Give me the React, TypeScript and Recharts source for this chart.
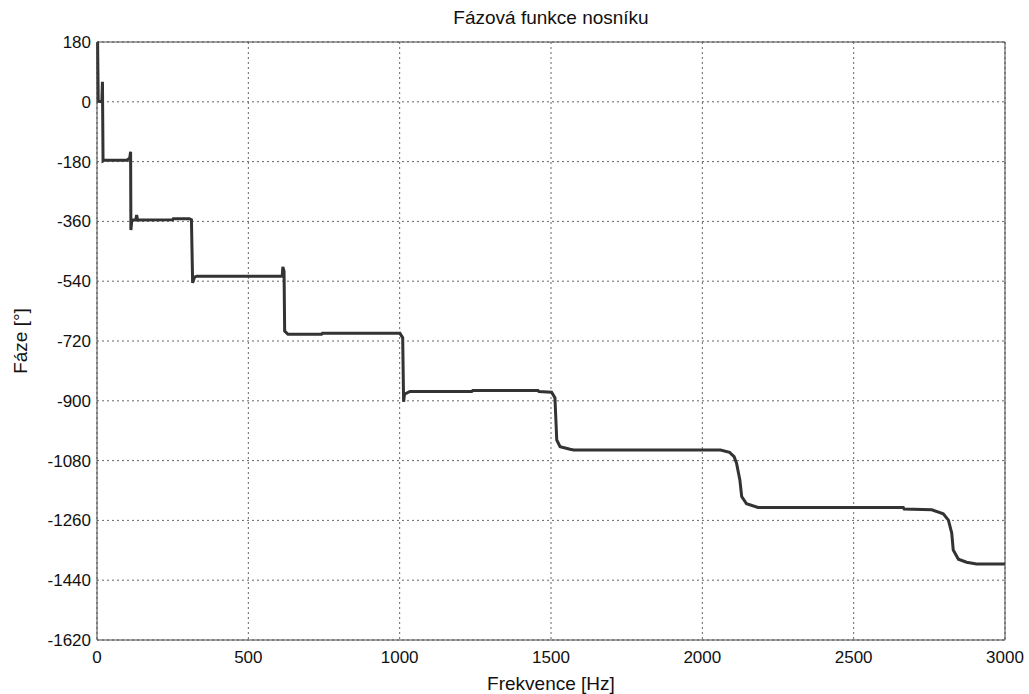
import React from 'react';
import { LineChart, Line, XAxis, YAxis, CartesianGrid, Label } from 'recharts';

// frequency [Hz] and phase [deg]
const freqHz = [
  0, 2, 4, 16, 18, 20, 24, 98, 108, 111, 112, 115, 128, 131, 134, 250, 252, 305, 312, 316, 322, 330,
  612, 614, 618, 620, 631, 742, 745, 1001, 1010, 1013, 1016, 1034, 1238, 1242, 1457, 1460, 1502, 1513,
  1519, 1530, 1563, 1575, 2060, 2090, 2105, 2113, 2124, 2130, 2146, 2184, 2664, 2667, 2758, 2796, 2813,
  2824, 2829, 2846, 2873, 2906, 3000,
];
const phaseDeg = [
  180, 178, 2, 0, 60, -178, -176, -176, -170, -150, -386, -356, -356, -341, -356, -355, -352, -352, -355, -545, -528, -525,
  -525, -497, -510, -690, -700, -700, -697, -697, -710, -903, -880, -872, -872, -869, -869, -872, -874, -891,
  -1018, -1038, -1046, -1048, -1048, -1055, -1068, -1088, -1138, -1188, -1210, -1221, -1221, -1226, -1228, -1240, -1259,
  -1298, -1349, -1377, -1386, -1391, -1391,
];

const xTicks = [0, 500, 1000, 1500, 2000, 2500, 3000];
const yTicks = [180, 0, -180, -360, -540, -720, -900, -1080, -1260, -1440, -1620];

const title = 'Fázová funkce nosníku';
const xLabel = 'Frekvence [Hz]';
const yLabel = 'Fáze [°]';

const data = freqHz.map((f, i) => ({ f, phase: phaseDeg[i] }));

const font = '"Liberation Sans", Arial, sans-serif';

export default function App() {
  return (
    <div style={{ position: 'absolute', left: 0, top: 0, background: '#fff', fontFamily: font }}>
      <LineChart width={1029} height={694} data={data} margin={{ top: 0, right: 0, bottom: 0, left: 0 }}>
        <CartesianGrid stroke="#666" strokeDasharray="2 3" />
        <XAxis
          dataKey="f"
          type="number"
          domain={[0, 3000]}
          ticks={xTicks}
          height={54}
          tickLine={false}
          tickSize={8}
          tickMargin={3}
          axisLine={{ stroke: '#444' }}
          tick={{ fill: '#111', fontSize: 17, fontFamily: font }}
        >
          <Label value={xLabel} position="insideBottom" offset={4} fill="#111" fontSize={19} fontFamily={font} />
        </XAxis>
        <XAxis
          xAxisId="top"
          orientation="top"
          type="number"
          domain={[0, 3000]}
          ticks={xTicks}
          height={42}
          tick={false}
          tickLine={false}
          axisLine={{ stroke: '#444' }}
        >
          <Label value={title} position="insideTop" offset={11} fill="#111" fontSize={19} fontFamily={font} />
        </XAxis>
        <YAxis
          type="number"
          domain={[-1620, 180]}
          ticks={yTicks}
          width={97}
          tickLine={false}
          tickSize={4}
          tickMargin={2}
          axisLine={{ stroke: '#444' }}
          tick={{ fill: '#111', fontSize: 17, fontFamily: font }}
          label={{
            value: yLabel,
            content: (props: any) => {
              const vb = props.viewBox || {};
              const x = (vb.x || 0) + 20;
              const y = (vb.y || 0) + (vb.height || 0) / 2;
              return (
                <text
                  x={x}
                  y={y}
                  transform={`rotate(-90 ${x} ${y})`}
                  textAnchor="middle"
                  dominantBaseline="central"
                  fill="#111"
                  fontSize={19}
                  fontFamily={font}
                >
                  {yLabel}
                </text>
              );
            },
          }}
        />
        <YAxis
          yAxisId="right"
          orientation="right"
          type="number"
          domain={[-1620, 180]}
          ticks={yTicks}
          width={24}
          tick={false}
          tickLine={false}
          axisLine={{ stroke: '#444' }}
        />
        <Line
          dataKey="phase"
          type="linear"
          stroke="#333"
          strokeWidth={3}
          dot={false}
          isAnimationActive={false}
        />
      </LineChart>
    </div>
  );
}
